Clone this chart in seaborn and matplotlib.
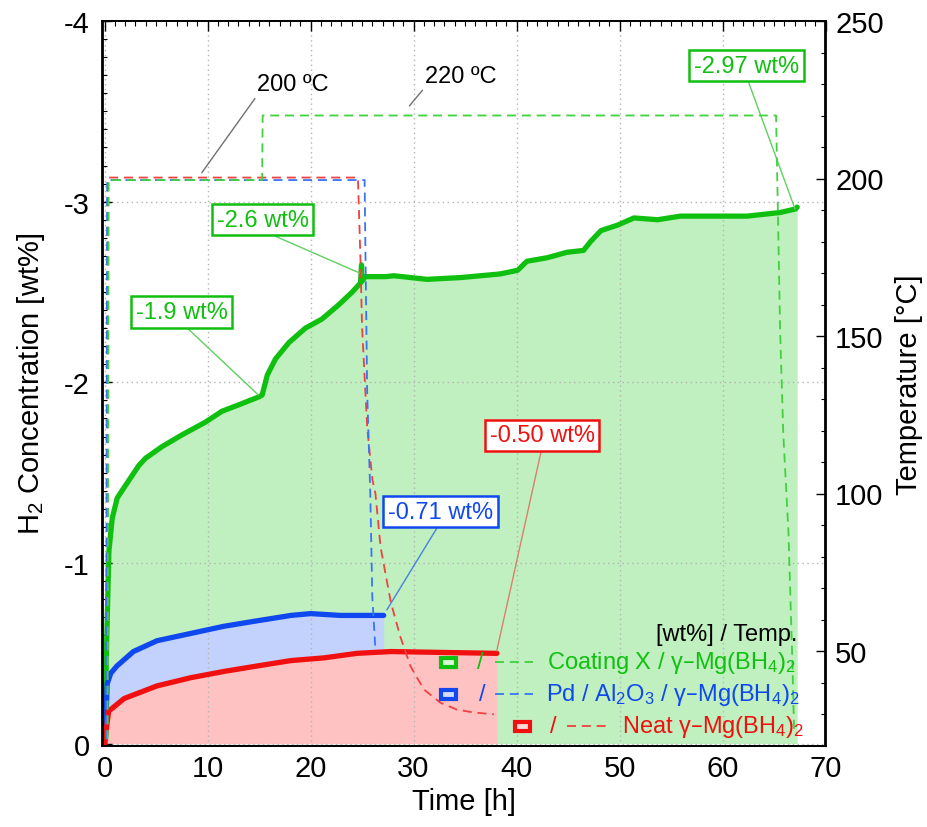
import numpy as np
import pandas as pd
import matplotlib
matplotlib.use("Agg")
import matplotlib.pyplot as plt
from matplotlib.patches import Rectangle
from matplotlib.lines import Line2D
from matplotlib.ticker import MultipleLocator
import seaborn as sns

# ---------------- data ----------------
# H2 concentration curves (time in h, wt%)
coat_t = [0, 0.2, 0.42, 0.75, 1.23, 2.04, 3.33, 3.98, 5.6, 7.54, 9.8, 11.4, 13.0, 15.0, 15.3,
          15.8, 16.6, 17.9, 19.5, 21.1, 22.75, 24.05, 24.85, 24.95, 25.0, 25.3, 27.3, 28.1,
          31.3, 34.6, 38.4, 40.1, 41.0, 43.0, 44.9, 46.5, 47.2, 48.2, 49.8, 51.4, 53.7,
          55.9, 59.1, 62.4, 65.6, 67.1, 67.25]
coat_wt = [0, -0.55, -1.065, -1.25, -1.36, -1.43, -1.54, -1.58, -1.645, -1.71, -1.78, -1.84,
           -1.875, -1.92, -1.93, -2.04, -2.13, -2.22, -2.30, -2.35, -2.43, -2.50, -2.55,
           -2.65, -2.56, -2.585, -2.585, -2.59, -2.57, -2.58, -2.60, -2.62, -2.67, -2.69,
           -2.72, -2.73, -2.78, -2.84, -2.87, -2.91, -2.90, -2.92, -2.92, -2.92, -2.94,
           -2.96, -2.97]

pd_t = [0, 0.1, 0.25, 0.6, 1.2, 2.8, 5.1, 8.35, 11.6, 14.8, 18.1, 20.0, 22.9, 27.1]
pd_wt = [0, -0.05, -0.33, -0.39, -0.43, -0.51, -0.57, -0.61, -0.65, -0.68, -0.71, -0.72,
         -0.71, -0.71]

neat_t = [0, 0.1, 0.4, 1.9, 5.1, 8.35, 11.6, 14.8, 18.1, 21.3, 24.5, 27.8, 38.1]
neat_wt = [0, -0.05, -0.18, -0.25, -0.32, -0.365, -0.40, -0.43, -0.46, -0.475, -0.50,
           -0.51, -0.50]

# Temperature programmes (time in h, deg C)
coat_T_t = [0.3, 0.4, 15.3, 15.35, 65.2, 65.6, 65.9, 66.4, 66.6, 66.8, 66.95]
coat_T = [22, 199.5, 199.5, 220, 220, 151, 119, 88, 66, 45, 24]

pd_T_t = [0.15, 0.25, 25.25, 25.34, 25.5, 25.8, 26.0, 26.3]
pd_T = [22, 199.5, 199.5, 174, 132, 100, 67, 50.5]

neat_T_t = [0.25, 0.35, 24.6, 24.85, 25.0, 25.5, 26.0, 26.3, 26.8, 27.8, 28.7, 29.7,
            31.0, 32.6, 34.2, 35.8, 37.8]
neat_T = [22, 200.3, 200.3, 174, 153, 121, 104.5, 100, 83, 65.4, 54.7, 45.2, 37.8,
          33.6, 31.4, 30.5, 29.9]

x_ticks = [0, 10, 20, 30, 40, 50, 60, 70]
y_ticks = [0, -1, -2, -3, -4]
y_tick_labels = ["0", "-1", "-2", "-3", "-4"]
t_ticks = [50, 100, 150, 200, 250]

series_names = ["Coating X / γ–Mg(BH$_4$)$_2$",
                "Pd / Al$_2$O$_3$ / γ–Mg(BH$_4$)$_2$",
                "Neat γ–Mg(BH$_4$)$_2$"]

# ---------------- style ----------------
sns.set_theme(style="white")
plt.rcParams["font.family"] = ["Liberation Sans", "DejaVu Sans"]
plt.rcParams["mathtext.default"] = "regular"
plt.rcParams["axes.unicode_minus"] = False
plt.rcParams["text.color"] = "black"
plt.rcParams["axes.labelcolor"] = "black"

GREEN, BLUE, RED = "#10c010", "#1048f0", "#f01010"
GREEN_D, BLUE_D, RED_D = "#40d040", "#3a74f5", "#f04040"
GREEN_F, BLUE_F, RED_F = "#c0f0bf", "#c2d2fd", "#ffc2c2"
DASH = (0, (5, 3.2))

fig = plt.figure(figsize=(9.28, 8.28), dpi=100)
ax = fig.add_axes([102.5 / 928, (828 - 746.5) / 828, 723 / 928, 724.5 / 828])
ax2 = ax.twinx()

df_coat = pd.DataFrame({"t": coat_t, "wt": coat_wt})
df_pd = pd.DataFrame({"t": pd_t, "wt": pd_wt})
df_neat = pd.DataFrame({"t": neat_t, "wt": neat_wt})

# fills
ax.fill_between(df_coat["t"], df_coat["wt"], 0, color=GREEN_F, lw=0, zorder=1)
ax.fill_between(df_pd["t"], df_pd["wt"], 0, color=BLUE_F, lw=0, zorder=1.1)
ax.fill_between(df_neat["t"], df_neat["wt"], 0, color=RED_F, lw=0, zorder=1.2)

# curves
for df, c in [(df_coat, GREEN), (df_pd, BLUE), (df_neat, RED)]:
    sns.lineplot(data=df, x="t", y="wt", ax=ax, color=c, lw=3.8, estimator=None,
                 sort=False, legend=False, zorder=3)

# temperature lines
for tt, TT, c in [(neat_T_t, neat_T, RED_D), (pd_T_t, pd_T, BLUE_D), (coat_T_t, coat_T, GREEN_D)]:
    dft = pd.DataFrame({"t": tt, "T": TT})
    sns.lineplot(data=dft, x="t", y="T", ax=ax2, color=c, lw=1.3, estimator=None,
                 sort=False, legend=False)
    ax2.lines[-1].set_linestyle(DASH)

# axes limits / ticks
ax.set_xlim(-0.2, 70)
ax.set_ylim(0.01, -4)
ax2.set_ylim(20, 250)
ax.set_xticks(x_ticks)
ax.set_yticks(y_ticks)
ax.set_yticklabels(y_tick_labels)
ax2.set_yticks(t_ticks)
ax.xaxis.set_minor_locator(MultipleLocator(1))
ax.yaxis.set_minor_locator(MultipleLocator(0.1))
ax2.yaxis.set_minor_locator(MultipleLocator(10))

ax.set_axisbelow(False)
ax.grid(True, which="major", color="#b4b4b4", ls=(0, (1, 2.5)), lw=1.0)
ax2.grid(False)

for a in (ax, ax2):
    for s in a.spines.values():
        s.set_color("black")
        s.set_linewidth(1.3)
ax.tick_params(axis="both", which="major", direction="in", length=7, width=1.0,
               labelsize=21, top=True, right=False, colors="black")
ax.tick_params(axis="both", which="minor", direction="in", length=3.5, width=0.8,
               top=True, right=False, colors="black")
ax.tick_params(axis="y", pad=9)
ax.tick_params(axis="x", pad=6)
ax2.tick_params(axis="y", which="major", direction="in", length=7, width=1.0,
                labelsize=21, pad=7, colors="black")
ax2.tick_params(axis="y", which="minor", direction="in", length=3.5, width=0.8,
                colors="black")

ax.set_xlabel("Time [h]", fontsize=21, labelpad=4, color="black")
ax.set_ylabel("H$_2$ Concentration [wt%]", fontsize=21, labelpad=12, color="black")
ax2.set_ylabel("Temperature [°C]", fontsize=21, labelpad=8, rotation=90, color="black")

# ---------------- annotations ----------------
def box_note(text, xytext, xy, color, lcolor):
    ax.annotate(text, xy=xy, xytext=xytext, textcoords="data", ha="center", va="center",
                fontsize=17, color=color, zorder=10, annotation_clip=False,
                bbox=dict(boxstyle="square,pad=0.2", fc="white", ec=color, lw=1.8),
                arrowprops=dict(arrowstyle="-", color=lcolor, lw=1.0, relpos=(0.5, 0),
                                shrinkA=0, shrinkB=0))

box_note("-1.9 wt%", (7.5, -2.39), (14.93, -1.93), GREEN, "#60d060")
box_note("-2.6 wt%", (15.36, -2.90), (24.97, -2.60), GREEN, "#60d060")
box_note("-2.97 wt%", (62.33, -3.753), (67.04, -2.96), GREEN, "#60d060")
box_note("-0.71 wt%", (32.6, -1.285), (27.4, -0.74), BLUE, "#4a80e0")
box_note("-0.50 wt%", (42.5, -1.707), (38.08, -0.514), RED, "#d88070")

for text, xytext, xy in [("200 ºC", (18.3, -3.65), (9.44, -3.16)),
                         ("220 ºC", (34.6, -3.696), (29.6, -3.53))]:
    ax.annotate(text, xy=xy, xytext=xytext, ha="center", va="center", fontsize=17,
                color="black", zorder=10,
                arrowprops=dict(arrowstyle="-", color="#707070", lw=1.0, relpos=(0.0, 0.0),
                                shrinkA=0, shrinkB=0))

# ---------------- legend (manual, in axes fraction) ----------------
T = ax2.transAxes
def fx(px):
    return (px - 102.5) / 723.0
def fy(py):
    return (746.5 - py) / 724.5

ax2.text(fx(797), fy(635), "[wt%] / Temp.", transform=T, ha="right", va="center",
         fontsize=17, color="black", zorder=20)

rows = [
    (663, 448, 480, (495, 533), 546.5, GREEN, GREEN_D, "#d8f8d8", series_names[0]),
    (695, 448, 482, (495, 533), 546.0, BLUE, BLUE_D, "#d0dcff", series_names[1]),
    (727, 522, 553, (567, 607), 621.7, RED, RED_D, "#ffd8d8", series_names[2]),
]
for (py, mx, sx, (d0, d1), tx, c, cd, cl, name) in rows:
    w, h = 15 / 723.0, 9 / 724.5
    ax2.add_patch(Rectangle((fx(mx) - w / 2, fy(py) - h / 2), w, h, transform=T,
                            fc=cl, ec=c, lw=3.0, zorder=20, clip_on=False))
    ax2.text(fx(sx), fy(py), "/", transform=T, ha="center", va="center", fontsize=17,
             color=c, zorder=20)
    ax2.add_line(Line2D([fx(d0), fx(d1)], [fy(py), fy(py)], transform=T, color=cd,
                        lw=1.3, ls=DASH, zorder=20))
    ax2.text(fx(tx), fy(py), name, transform=T, ha="left", va="center", fontsize=17,
             color=c, zorder=20)

fig.savefig("out.png", dpi=100)
